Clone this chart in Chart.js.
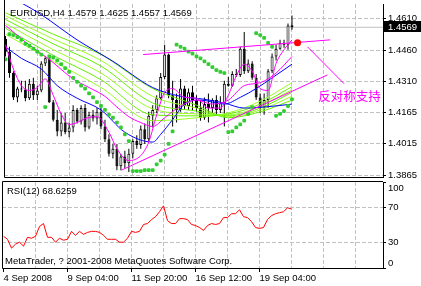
<!DOCTYPE html>
<html>
<head>
<meta charset="utf-8">
<script src="https://cdn.jsdelivr.net/npm/chart.js@4.4.0/dist/chart.umd.min.js"></script>
<style>
  html, body { margin: 0; padding: 0; background: #fff; }
  #wrap { position: relative; width: 421px; height: 286px; overflow: hidden; background: #fff; }
  #priceCanvas { position: absolute; left: 0; top: 0; }
  #rsiCanvas { position: absolute; left: 0; top: 181px; }
</style>
</head>
<body>
<div id="wrap">
  <canvas id="priceCanvas" width="421" height="181"></canvas>
  <canvas id="rsiCanvas" width="421" height="105"></canvas>
</div>
<script>
// EURUSD H4, one entry per bar
const candleOpen = [1.4513,1.4453,1.4351,1.4235,1.4277,1.4272,1.4231,1.4300,1.4245,1.4268,
  1.4397,1.4421,1.4212,1.4129,1.4073,1.4115,1.4069,1.4092,1.4175,1.4120,
  1.4184,1.4092,1.4152,1.4134,1.4166,1.4096,1.4036,1.3967,1.3990,1.3907,
  1.3953,1.3921,1.3967,1.4027,1.4008,1.4083,1.4036,1.4147,1.4175,1.4231,
  1.4332,1.4439,1.4245,1.4222,1.4175,1.4277,1.4194,1.4259,1.4222,1.4184,
  1.4138,1.4203,1.4184,1.4222,1.4175,1.4208,1.4300,1.4291,1.4346,1.4342,
  1.4467,1.4360,1.4397,1.4328,1.4235,1.4189,1.4222,1.4360,1.4430,1.4467,
  1.4495,1.4486,1.4579];
const candleHigh = [1.4527,1.4476,1.4360,1.4286,1.4314,1.4314,1.4323,1.4328,1.4291,1.4407,
  1.4430,1.4430,1.4222,1.4175,1.4161,1.4161,1.4115,1.4198,1.4184,1.4198,
  1.4203,1.4166,1.4175,1.4184,1.4184,1.4129,1.4059,1.4013,1.4013,1.3967,
  1.3981,1.3990,1.4036,1.4055,1.4101,1.4110,1.4166,1.4198,1.4245,1.4351,
  1.4486,1.4444,1.4314,1.4254,1.4323,1.4291,1.4277,1.4291,1.4245,1.4222,
  1.4235,1.4254,1.4231,1.4245,1.4240,1.4314,1.4332,1.4360,1.4370,1.4476,
  1.4546,1.4416,1.4407,1.4346,1.4254,1.4254,1.4370,1.4444,1.4486,1.4509,
  1.4509,1.4587,1.4625];
const candleLow = [1.4430,1.4328,1.4222,1.4212,1.4259,1.4217,1.4222,1.4222,1.4222,1.4259,
  1.4384,1.4208,1.4120,1.4050,1.4050,1.4059,1.4045,1.4069,1.4110,1.4106,
  1.4073,1.4083,1.4120,1.4106,1.4083,1.4022,1.3953,1.3944,1.3888,1.3888,
  1.3897,1.3879,1.3944,1.3990,1.3990,1.4013,1.4027,1.4092,1.4161,1.4222,
  1.4323,1.4231,1.4096,1.4115,1.4166,1.4175,1.4175,1.4170,1.4166,1.4124,
  1.4129,1.4115,1.4161,1.4156,1.4161,1.4096,1.4286,1.4286,1.4332,1.4332,
  1.4346,1.4351,1.4319,1.4222,1.4161,1.4152,1.4184,1.4351,1.4411,1.4462,
  1.4472,1.4462,1.4557];
const candleClose = [1.4453,1.4351,1.4235,1.4277,1.4272,1.4231,1.4300,1.4245,1.4268,1.4397,
  1.4421,1.4212,1.4129,1.4073,1.4115,1.4069,1.4092,1.4175,1.4120,1.4184,
  1.4092,1.4152,1.4134,1.4166,1.4096,1.4036,1.3967,1.3990,1.3907,1.3953,
  1.3921,1.3967,1.4027,1.4008,1.4083,1.4036,1.4147,1.4175,1.4231,1.4332,
  1.4439,1.4245,1.4222,1.4175,1.4277,1.4194,1.4259,1.4222,1.4184,1.4138,
  1.4203,1.4184,1.4222,1.4175,1.4208,1.4300,1.4291,1.4346,1.4342,1.4467,
  1.4360,1.4397,1.4328,1.4235,1.4189,1.4222,1.4360,1.4430,1.4467,1.4495,
  1.4486,1.4578,1.4569];

// parabolic SAR, one dot per bar
const sarValues = [1.4416,1.4536,1.4532,1.4522,1.4509,1.4490,1.4481,1.4467,1.4453,1.4439,
  1.4189,1.4430,1.4425,1.4411,1.4393,1.4374,1.4356,1.4328,1.4309,1.4291,
  1.4277,1.4254,1.4235,1.4212,1.4194,1.4175,1.4152,1.4138,1.4115,1.4092,
  1.4059,1.4027,1.3884,1.3884,1.3884,1.3888,1.3888,1.3888,1.3916,1.3934,
  1.3962,1.4013,1.4073,1.4486,1.4476,1.4467,1.4453,1.4444,1.4430,1.4421,
  1.4407,1.4393,1.4379,1.4365,1.4356,1.4351,1.4069,1.4073,1.4092,1.4106,
  1.4124,1.4156,1.4189,1.4541,1.4532,1.4518,1.4495,1.4476,1.4147,1.4156,
  1.4170,1.4194,1.4226];

// RSI(12), one value per bar
const rsiValues = [36.9,33.4,23.1,27.7,30.0,25.4,35.7,34.6,36.9,48.3,
  51.7,35.7,35.7,30.0,34.6,32.3,33.4,42.6,38.0,42.6,
  39.1,41.4,42.6,42.6,41.4,38.0,33.4,33.4,33.4,30.0,
  30.0,34.6,42.6,41.4,42.6,50.6,51.7,56.3,59.7,65.4,
  72.3,55.1,51.7,51.7,57.4,57.4,56.3,50.6,49.4,47.1,
  43.7,49.4,51.7,50.6,51.7,58.6,58.6,63.1,63.1,67.7,
  59.7,58.6,54.0,47.1,46.0,47.1,56.3,60.9,63.1,64.3,
  65.4,70.0,68.6259];

// moving averages, read at a few bars each
const greenBars = [0, 12, 24, 37, 48, 56, 64, 72];
const green1 = [1.4638, 1.4536, 1.4439, 1.4277, 1.4198, 1.4138, 1.4166, 1.4222];
const green2 = [1.4624, 1.4513, 1.4411, 1.4240, 1.4184, 1.4143, 1.4175, 1.4240];
const green3 = [1.4606, 1.4490, 1.4384, 1.4208, 1.4170, 1.4147, 1.4184, 1.4259];
const green4 = [1.4587, 1.4462, 1.4351, 1.4180, 1.4156, 1.4152, 1.4194, 1.4272];
const green5 = [1.4564, 1.4435, 1.4319, 1.4152, 1.4147, 1.4156, 1.4203, 1.4286];
const green6 = [1.4536, 1.4407, 1.4282, 1.4124, 1.4138, 1.4161, 1.4217, 1.4305];

const blueSlowBars = [0, 4, 9, 18, 27, 37, 44, 50, 55, 60, 65, 72];
const blueSlow = [1.4722, 1.4685, 1.4629, 1.4509, 1.4407, 1.4282, 1.4240, 1.4226, 1.4208, 1.4184, 1.4189, 1.4203];
const blueFastBars = [0, 4, 9, 13, 18, 24, 30, 37, 39, 42, 45, 49, 55, 59, 63, 67, 72];
const blueFast = [1.4476, 1.4421, 1.4370, 1.4291, 1.4231, 1.4175, 1.4069, 1.4022, 1.4059, 1.4129, 1.4203, 1.4222, 1.4203, 1.4235, 1.4277, 1.4328, 1.4393];

const pinkFastBars = [0, 2, 4, 6, 8, 10, 12, 14, 16, 18, 20, 23, 26, 28, 31, 34, 36, 38, 40, 42, 45, 48, 51, 54, 56, 58, 60, 62, 64, 66, 68, 70, 72];
const pinkFast = [1.4486, 1.4370, 1.4291, 1.4268, 1.4282, 1.4323, 1.4245, 1.4156, 1.4106, 1.4115, 1.4134, 1.4143, 1.4069, 1.3990, 1.3934, 1.3958, 1.4022, 1.4152, 1.4259, 1.4277, 1.4235, 1.4231, 1.4184, 1.4184, 1.4245, 1.4337, 1.4393, 1.4360, 1.4277, 1.4268, 1.4397, 1.4462, 1.4509];
const pinkSlowBars = [0, 5, 11, 17, 21, 25, 28, 31, 34, 37, 40, 44, 48, 52, 56, 60, 64, 68, 72];
const pinkSlow = [1.4578, 1.4499, 1.4416, 1.4323, 1.4282, 1.4240, 1.4189, 1.4143, 1.4115, 1.4096, 1.4138, 1.4194, 1.4222, 1.4203, 1.4222, 1.4291, 1.4305, 1.4351, 1.4430];

// hand drawn objects (bar position, price)
const upperLineBars = [34.6, 81.6];
const upperLine = [1.4439, 1.4509];
const supportLineBars = [29.1, 80.9];
const supportLine = [1.3888, 1.4342];
const pointerLineBars = [75.9, 85.1];
const pointerLine = [1.4476, 1.4300];
const markBar = 73.4;
const markPrice = 1.4495;
const noteBar = 78.6;
const notePrice = 1.4240;
const noteText = '反对称支持';

// axes
const priceTicks = [1.3865, 1.4015, 1.4165, 1.4310, 1.4460, 1.4610];
const priceMin = 1.38557;
const priceMax = 1.46799;
const rsiLevels = [0, 30, 70, 100];
const gridBars = [8, 16, 24, 32, 40, 48, 56, 64, 72, 80, 88];
const timeLabelBars = [0, 16, 32, 48, 64];
const timeLabels = ['4 Sep 2008', '9 Sep 04:00', '11 Sep 20:00', '16 Sep 12:00', '19 Sep 04:00'];
const barMin = -0.375;
const barMax = 94.875;

const symbolName = 'EURUSD';
const periodName = 'H4';
const rsiPeriod = 12;
const copyrightText = 'MetaTrader, ? 2001-2008 MetaQuotes Software Corp.';

Chart.defaults.font.family = '"Liberation Sans", Arial, sans-serif';
Chart.defaults.font.size = 9.5;
Chart.defaults.color = '#000';
Chart.defaults.animation = false;

const GRID = '#c0c0c0';
const DASH = [4, 2];
const bars = candleClose.map((_, i) => i);
const last = bars.length - 1;
const nodes = (idx, vals) => idx.map((x, k) => ({ x, y: vals[k] }));

const maLine = (idx, vals, color, order) => ({
  type: 'line', data: nodes(idx, vals), borderColor: color, borderWidth: 1,
  pointRadius: 0, cubicInterpolationMode: 'monotone', order
});
const drawnLine = (idx, vals, order) => ({
  type: 'line', data: nodes(idx, vals), borderColor: '#ff00ff', borderWidth: 1,
  pointRadius: 0, tension: 0, order
});

const priceDecor = {
  id: 'priceDecor',
  afterDatasetsDraw(chart) {
    const { ctx, scales: { x, y } } = chart;
    ctx.save();
    ctx.fillStyle = '#ff00ff';
    ctx.font = '12.5px "Noto Sans CJK SC"';
    ctx.textBaseline = 'middle';
    ctx.fillText(noteText, x.getPixelForValue(noteBar), y.getPixelForValue(notePrice));
    ctx.restore();
  },
  afterDraw(chart) {
    const { ctx, chartArea: a, scales: { y } } = chart;
    ctx.save();
    ctx.strokeStyle = '#000';
    ctx.lineWidth = 1;
    ctx.beginPath();
    ctx.moveTo(a.left + 0.5, 0);
    ctx.lineTo(a.left + 0.5, a.bottom + 0.5);
    ctx.lineTo(a.right, a.bottom + 0.5);
    ctx.stroke();

    // header with last bar OHLC
    ctx.fillStyle = '#000';
    ctx.font = '9.5px "Liberation Sans"';
    ctx.textBaseline = 'middle';
    const head = `${symbolName},${periodName} ${candleOpen[last].toFixed(4)} ${candleHigh[last].toFixed(4)} ${candleLow[last].toFixed(4)} ${candleClose[last].toFixed(4)}`;
    ctx.fillText(head, a.left + 6, a.top + 9);

    // current price tag
    const py = Math.round(y.getPixelForValue(candleClose[last]));
    ctx.fillRect(a.right + 1, py - 6, chart.width - a.right - 1, 11);
    ctx.fillStyle = '#fff';
    ctx.fillText(candleClose[last].toFixed(4), a.right + 5, py);
    ctx.restore();
  }
};

new Chart(document.getElementById('priceCanvas'), {
  type: 'bar',
  data: {
    datasets: [
      { type: 'line', data: [{ x: barMin, y: candleClose[last] }, { x: barMax, y: candleClose[last] }],
        borderColor: GRID, borderWidth: 1, pointRadius: 0, order: 40 },
      { data: bars.map(i => ({ x: i, y: [candleLow[i], candleHigh[i]] })),
        backgroundColor: '#000', borderWidth: 0, barThickness: 1, grouped: false,
        inflateAmount: 0, order: 31 },
      { data: bars.map(i => ({ x: i, y: [candleOpen[i], candleClose[i]] })),
        backgroundColor: bars.map(i => candleClose[i] >= candleOpen[i] ? '#fff' : '#000'),
        borderColor: '#000', borderWidth: 1, borderSkipped: false, barThickness: 3,
        grouped: false, inflateAmount: 0, minBarLength: 1, order: 30 },
      maLine(greenBars, green1, '#66ee00', 12),
      maLine(greenBars, green2, '#99ff22', 12),
      maLine(greenBars, green3, '#66ee00', 12),
      maLine(greenBars, green4, '#99ff22', 12),
      maLine(greenBars, green5, '#66ee00', 12),
      maLine(greenBars, green6, '#99ff22', 12),
      maLine(blueSlowBars, blueSlow, '#0000ff', 11),
      maLine(blueFastBars, blueFast, '#0000ff', 11),
      maLine(pinkSlowBars, pinkSlow, '#ff00ff', 10),
      maLine(pinkFastBars, pinkFast, '#ff00ff', 10),
      { type: 'line', data: bars.map(i => ({ x: i, y: sarValues[i] })), showLine: false,
        pointStyle: 'rectRounded', pointRadius: 2.2, pointBackgroundColor: '#33cc33',
        pointBorderWidth: 0, order: 5 },
      drawnLine(upperLineBars, upperLine, 2),
      drawnLine(supportLineBars, supportLine, 2),
      drawnLine(pointerLineBars, pointerLine, 2),
      { type: 'line', data: [{ x: markBar, y: markPrice }], showLine: false,
        pointRadius: 3.5, pointBackgroundColor: '#ff0000', pointBorderWidth: 0, order: 1 }
    ]
  },
  options: {
    responsive: false,
    maintainAspectRatio: false,
    devicePixelRatio: 1,
    layout: { padding: { left: 2, top: 1, right: 0, bottom: 0 } },
    plugins: { legend: { display: false }, tooltip: { enabled: false } },
    scales: {
      x: {
        type: 'linear', min: barMin, max: barMax, offset: false,
        afterBuildTicks: s => { s.ticks = gridBars.map(value => ({ value })); },
        afterFit: s => { s.height = 2; s.paddingLeft = 0; s.paddingRight = 0; },
        ticks: { display: false },
        grid: { color: GRID, drawTicks: false, offset: false },
        border: { display: false, dash: DASH }
      },
      y: {
        position: 'right', min: priceMin, max: priceMax,
        afterBuildTicks: s => { s.ticks = priceTicks.map(value => ({ value })); },
        afterFit: s => { s.width = 38; s.paddingTop = 0; s.paddingBottom = 0; },
        ticks: { padding: 2, autoSkip: false, callback: v => Number(v).toFixed(4) },
        grid: { color: GRID, tickColor: '#000', tickLength: 3 },
        border: { color: '#000', dash: DASH }
      }
    }
  },
  plugins: [priceDecor]
});

const rsiDecor = {
  id: 'rsiDecor',
  afterDraw(chart) {
    const { ctx, chartArea: a, scales: { y } } = chart;
    ctx.save();
    ctx.strokeStyle = '#000';
    ctx.lineWidth = 1;
    ctx.beginPath();
    ctx.moveTo(a.right, a.top - 0.5);
    ctx.lineTo(a.left + 0.5, a.top - 0.5);
    ctx.lineTo(a.left + 0.5, a.bottom + 0.5);
    ctx.lineTo(a.right, a.bottom + 0.5);
    ctx.stroke();

    ctx.fillStyle = '#000';
    ctx.font = '9.5px "Liberation Sans"';
    ctx.textBaseline = 'middle';
    rsiLevels.forEach(v => {
      const py = Math.min(Math.max(y.getPixelForValue(v), a.top + 6), a.bottom - 5);
      ctx.fillText(String(v), a.right + 5, py);
    });
    ctx.fillText(`RSI(${rsiPeriod}) ${rsiValues[last].toFixed(4)}`, a.left + 5, a.top + 9);
    ctx.fillText(copyrightText, a.left + 3, a.bottom - 7);
    ctx.restore();
  }
};

new Chart(document.getElementById('rsiCanvas'), {
  type: 'line',
  data: {
    datasets: [{
      data: bars.map(i => ({ x: i, y: rsiValues[i] })),
      borderColor: '#ff0000', borderWidth: 1, pointRadius: 0, tension: 0
    }]
  },
  options: {
    responsive: false,
    maintainAspectRatio: false,
    devicePixelRatio: 1,
    layout: { padding: { left: 2, top: 1, right: 0, bottom: 0 } },
    plugins: { legend: { display: false }, tooltip: { enabled: false } },
    scales: {
      x: {
        type: 'linear', min: barMin, max: barMax, offset: false,
        afterBuildTicks: s => { s.ticks = [0, ...gridBars].map(value => ({ value })); },
        afterFit: s => { s.height = 18; s.paddingLeft = 0; s.paddingRight = 0; },
        ticks: {
          autoSkip: false, maxRotation: 0, align: 'start', padding: 1,
          callback: v => { const k = timeLabelBars.indexOf(v); return k < 0 ? '' : timeLabels[k]; }
        },
        grid: {
          color: c => (c.tick && c.tick.value === 0) ? 'rgba(0,0,0,0)' : GRID,
          tickColor: c => (c.tick && timeLabelBars.includes(c.tick.value)) ? '#000' : 'rgba(0,0,0,0)',
          tickLength: 4
        },
        border: { display: false, dash: DASH }
      },
      y: {
        position: 'right', min: 0, max: 100,
        afterBuildTicks: s => { s.ticks = rsiLevels.map(value => ({ value })); },
        afterFit: s => { s.width = 38; s.paddingTop = 0; s.paddingBottom = 0; },
        ticks: { display: false },
        grid: {
          color: c => (c.tick && (c.tick.value === 30 || c.tick.value === 70)) ? GRID : 'rgba(0,0,0,0)',
          tickColor: '#000', tickLength: 3
        },
        border: { color: '#000', dash: DASH }
      }
    }
  },
  plugins: [rsiDecor]
});
</script>
</body>
</html>
